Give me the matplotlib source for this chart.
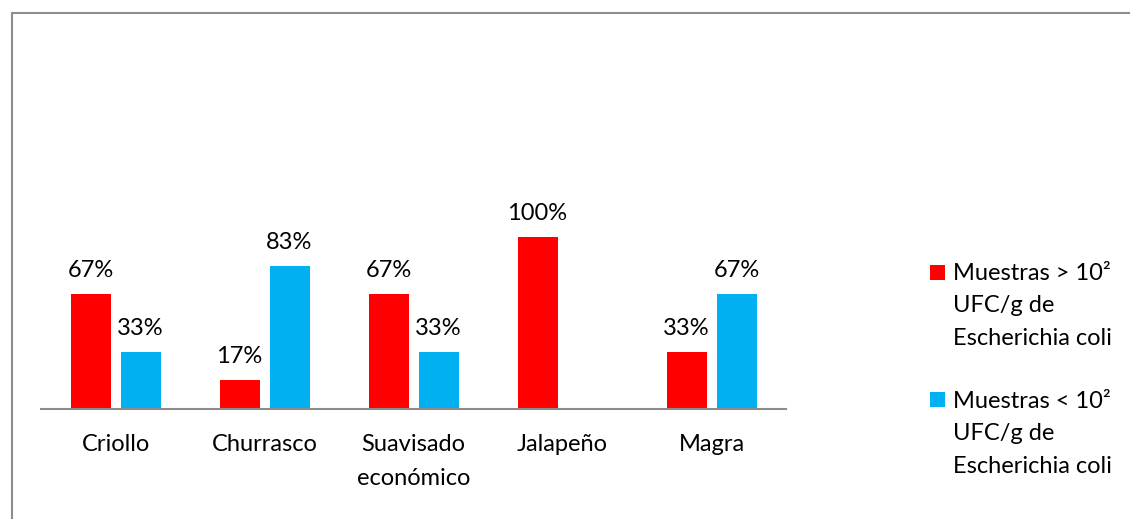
import matplotlib.pyplot as plt
from matplotlib.patches import Rectangle

# Datos: porcentaje de muestras por tipo de chorizo
categorias = ['Criollo', 'Churrasco', 'Suavisado\neconómico', 'Jalapeño', 'Magra']
mayor_102 = [67, 17, 67, 100, 33]
menor_102 = [33, 83, 33, 0, 67]
etiquetas = ['Muestras > 10²\nUFC/g de\nEscherichia coli',
             'Muestras < 10²\nUFC/g de\nEscherichia coli']

ROJO = '#FF0000'
AZUL = '#00B0F0'

plt.rcParams['font.family'] = ['Lato', 'DejaVu Sans']

W, H = 1130, 519
fig = plt.figure(figsize=(W / 100, H / 100), dpi=100)

# marco del gráfico (solo se ven borde izquierdo y superior)
fig.patches.append(Rectangle((11.5 / W, -0.1), 1.2, 1.1 - 13.5 / H,
                             transform=fig.transFigure, fill=False,
                             edgecolor='#8c8c8c', linewidth=1.5))

ax = fig.add_axes([41 / W, (H - 409) / H, (786 - 41) / W, (409 - 40) / H])

x = list(range(len(categorias)))
ancho = 40 / 149
desp = 25 / 149
b1 = ax.bar([i - desp for i in x], mayor_102, ancho, color=ROJO)
b2 = ax.bar([i + desp for i in x], menor_102, ancho, color=AZUL)

fs = 17
for barras, vals in ((b1, mayor_102), (b2, menor_102)):
    for b, v in zip(barras, vals):
        if v == 0:
            continue
        ax.annotate(f'{v}%', (b.get_x() + b.get_width() / 2, v),
                    xytext=(0, 17 * 0.72), textcoords='offset points',
                    ha='center', va='baseline', fontsize=fs, color='#000000')

ax.set_xlim(-0.5, len(categorias) - 0.5)
ax.set_ylim(0, 100 * (409 - 40) / 172)
ax.set_xticks(x)
ax.set_xticklabels(categorias, fontsize=fs, linespacing=1.75)
ax.tick_params(axis='x', length=0, pad=25 * 0.72)
ax.set_yticks([])
for s in ('left', 'right', 'top'):
    ax.spines[s].set_visible(False)
ax.spines['bottom'].set_color('#8c8c8c')
ax.spines['bottom'].set_linewidth(1.5)

# leyenda a la derecha, una línea de texto por renglón
for color, texto, y_cuadro, y_base in ((ROJO, etiquetas[0], 273, 280),
                                       (AZUL, etiquetas[1], 400, 408)):
    fig.patches.append(Rectangle((930 / W, (H - y_cuadro - 7) / H), 15 / W, 15 / H,
                                 transform=fig.transFigure, facecolor=color,
                                 edgecolor='none'))
    for k, linea in enumerate(texto.split('\n')):
        fig.text(953 / W, (H - y_base - 32.5 * k) / H, linea, fontsize=fs,
                 va='baseline', ha='left')

fig.savefig('out.png', dpi=100)
